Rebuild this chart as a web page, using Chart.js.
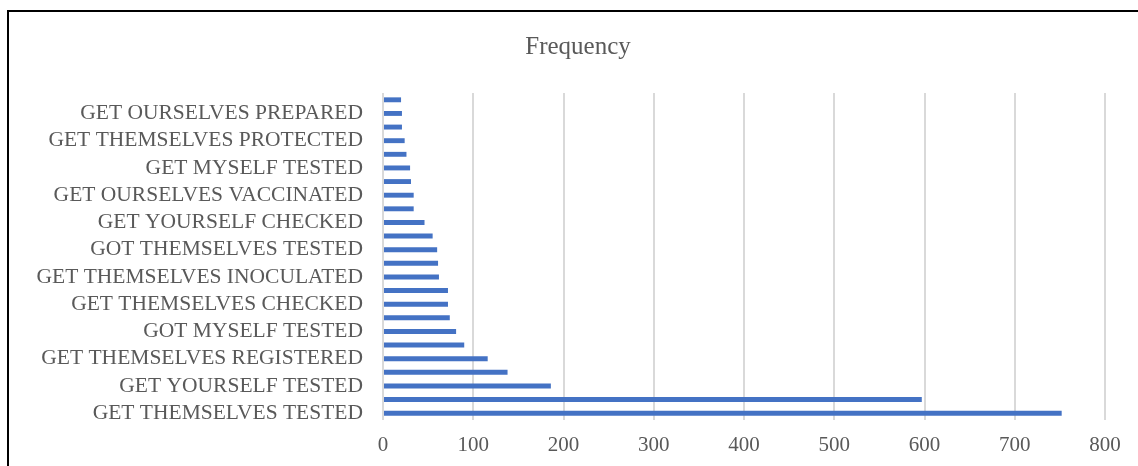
<!DOCTYPE html>
<html>
<head>
<meta charset="utf-8">
<script src="https://cdn.jsdelivr.net/npm/chart.js@4.4.0/dist/chart.umd.min.js"></script>
<style>
    html, body { margin: 0; padding: 0; background: #fff; overflow: hidden; }
    #frame {
        position: absolute; left: 7px; top: 10px; width: 1200px; height: 500px;
        border-top: 2px solid #000; border-left: 2px solid #000;
    }
    #wrap { position: absolute; left: 0; top: 0; width: 1138px; height: 466px; }
</style>
</head>
<body>
<div id="frame"></div>
<div id="wrap"><canvas id="myChart"></canvas></div>
<script>
// bottom to top, as in the source chart (only every other label is printed)
const categories = [
    'GET THEMSELVES TESTED', '',
    'GET YOURSELF TESTED', '',
    'GET THEMSELVES REGISTERED', '',
    'GOT MYSELF TESTED', '',
    'GET THEMSELVES CHECKED', '',
    'GET THEMSELVES INOCULATED', '',
    'GOT THEMSELVES TESTED', '',
    'GET YOURSELF CHECKED', '',
    'GET OURSELVES VACCINATED', '',
    'GET MYSELF TESTED', '',
    'GET THEMSELVES PROTECTED', '',
    'GET OURSELVES PREPARED', ''
];
const frequency = [
    752, 597, 186, 138, 116, 90, 81, 74, 72, 72, 62, 61,
    60, 55, 46, 34, 34, 31, 30, 26, 24, 21, 21, 20
];
const xTicks = [0, 100, 200, 300, 400, 500, 600, 700, 800];
const chartTitle = 'Frequency';

const textColor = '#595959';
const serif = '"Liberation Serif", "Times New Roman", serif';

// title centred on the whole chart frame, not just the canvas minus padding
const frameTitle = {
    id: 'frameTitle',
    afterDraw(chart) {
        const c = chart.ctx;
        c.save();
        c.font = '25px ' + serif;
        c.fillStyle = textColor;
        c.textAlign = 'center';
        c.textBaseline = 'middle';
        c.fillText(chartTitle, 578, 47);
        c.restore();
    }
};

const ctx = document.getElementById('myChart');
const myChart = new Chart(ctx, {
    type: 'bar',
    data: {
        labels: categories,
        datasets: [{
            label: chartTitle,
            data: frequency,
            backgroundColor: '#4472C4',
            barPercentage: 0.36,
            categoryPercentage: 1
        }]
    },
    options: {
        indexAxis: 'y',
        responsive: true,
        maintainAspectRatio: false,
        animation: false,
        layout: { padding: { left: 0, right: 33, top: 93, bottom: 0 } },
        plugins: {
            legend: { display: false },
            tooltip: { enabled: false },
            title: { display: false }
        },
        scales: {
            y: {
                reverse: true,
                grid: { display: false },
                border: { display: false },
                ticks: {
                    autoSkip: false,
                    color: textColor,
                    font: { family: serif, size: 21.5 },
                    padding: 12
                },
                afterFit: (scale) => { scale.width = 383; }
            },
            x: {
                min: 0,
                max: 800,
                grid: { color: '#d9d9d9', lineWidth: 2, drawTicks: false },
                border: { display: false },
                afterBuildTicks: (scale) => { scale.ticks = xTicks.map(v => ({ value: v })); },
                ticks: {
                    color: textColor,
                    font: { family: serif, size: 21 },
                    padding: 13,
                    maxRotation: 0
                },
                afterFit: (scale) => { scale.height = 46; }
            }
        }
    },
    plugins: [frameTitle]
});
</script>
</body>
</html>
